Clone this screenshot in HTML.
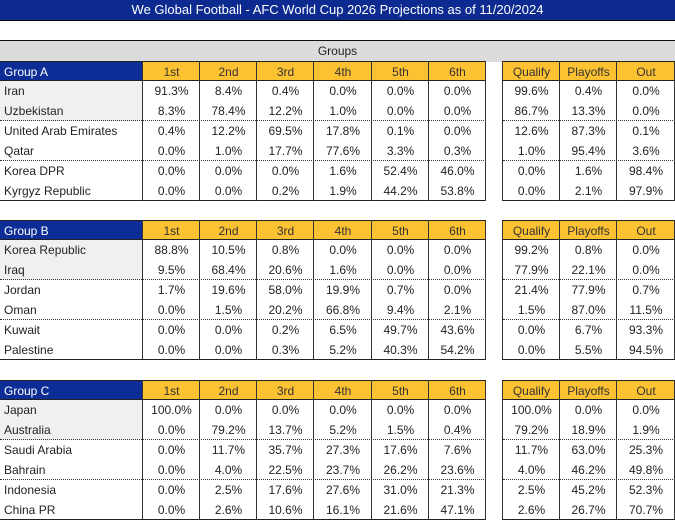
<!DOCTYPE html>
<html><head><meta charset="utf-8"><style>
body{margin:0;background:#fff;}
#root{position:relative;width:675px;height:521px;overflow:hidden;font-family:"Liberation Sans",sans-serif;font-size:12px;color:#222;}
.c{position:absolute;box-sizing:border-box;height:20px;line-height:20px;text-align:center;white-space:nowrap;}
.n{text-align:left;padding-left:4px;}
.h{background:#fdc232;color:#333;border-top:1px solid #222;border-bottom:1px solid #222;}
.g{background:#0c2d96;color:#fff;border-top:1px solid #222;border-bottom:1px solid #222;}
</style></head><body>
<div id="root">
<div style="position:absolute;left:0;top:0;width:675px;height:20px;background:#0c2a90;color:#fff;text-align:center;line-height:20px;font-size:13px;border-bottom:1px solid #000;">We Global Football - AFC World Cup 2026 Projections as of 11/20/2024</div>
<div style="position:absolute;left:0;top:40px;width:675px;height:21px;background:#dcdcdc;border-top:1px solid #111;text-align:center;line-height:20px;">Groups</div>
</div>
<script>
const posHeaders=["1st","2nd","3rd","4th","5th","6th"];
const outHeaders=["Qualify","Playoffs","Out"];
const groupNames=["Group A","Group B","Group C"];
const teamsA=["Iran","Uzbekistan","United Arab Emirates","Qatar","Korea DPR","Kyrgyz Republic"];
const teamsB=["Korea Republic","Iraq","Jordan","Oman","Kuwait","Palestine"];
const teamsC=["Japan","Australia","Saudi Arabia","Bahrain","Indonesia","China PR"];
const posA=[[91.3,8.4,0.4,0.0,0.0,0.0],[8.3,78.4,12.2,1.0,0.0,0.0],[0.4,12.2,69.5,17.8,0.1,0.0],[0.0,1.0,17.7,77.6,3.3,0.3],[0.0,0.0,0.0,1.6,52.4,46.0],[0.0,0.0,0.2,1.9,44.2,53.8]];
const outA=[[99.6,0.4,0.0],[86.7,13.3,0.0],[12.6,87.3,0.1],[1.0,95.4,3.6],[0.0,1.6,98.4],[0.0,2.1,97.9]];
const posB=[[88.8,10.5,0.8,0.0,0.0,0.0],[9.5,68.4,20.6,1.6,0.0,0.0],[1.7,19.6,58.0,19.9,0.7,0.0],[0.0,1.5,20.2,66.8,9.4,2.1],[0.0,0.0,0.2,6.5,49.7,43.6],[0.0,0.0,0.3,5.2,40.3,54.2]];
const outB=[[99.2,0.8,0.0],[77.9,22.1,0.0],[21.4,77.9,0.7],[1.5,87.0,11.5],[0.0,6.7,93.3],[0.0,5.5,94.5]];
const posC=[[100.0,0.0,0.0,0.0,0.0,0.0],[0.0,79.2,13.7,5.2,1.5,0.4],[0.0,11.7,35.7,27.3,17.6,7.6],[0.0,4.0,22.5,23.7,26.2,23.6],[0.0,2.5,17.6,27.6,31.0,21.3],[0.0,2.6,10.6,16.1,21.6,47.1]];
const outC=[[100.0,0.0,0.0],[79.2,18.9,1.9],[11.7,63.0,25.3],[4.0,46.2,49.8],[2.5,45.2,52.3],[2.6,26.7,70.7]];
const teams=[teamsA,teamsB,teamsC],pos=[posA,posB,posC],outs=[outA,outB,outC];
const root=document.getElementById('root');
const posX=[143,200,257,314,372,429,486];
const outX=[503,560,617,675];
function cell(x,y,w,txt,cls,name){
  const d=document.createElement('div');
  d.className='c '+cls;
  d.style.left=x+'px';d.style.top=y+'px';d.style.width=w+'px';
  d.textContent=txt;
  
  
  root.appendChild(d);return d;
}
function line(x,y,w,h,style,name){
  const d=document.createElement('div');
  d.style.cssText='position:absolute;left:'+x+'px;top:'+y+'px;width:'+w+'px;height:'+h+'px;'+style;
  
  
  root.appendChild(d);
}
const tops=[61,220,380];
groupNames.forEach((g,gi)=>{
  const y0=tops[gi];
  cell(0,y0,143,g,'g n','group-label');
  posHeaders.forEach((h,i)=>cell(posX[i],y0,posX[i+1]-posX[i],h,'h','position-header'));
  outHeaders.forEach((h,i)=>cell(outX[i],y0,outX[i+1]-outX[i],h,'h','outcome-header'));
  teams[gi].forEach((t,r)=>{
    const y=y0+20+r*20;
    const nc=cell(0,y,143,t,'n','team-name');
    if(r<2) nc.style.background='#f0f0f0';
    pos[gi][r].forEach((v,i)=>cell(posX[i],y,posX[i+1]-posX[i],v.toFixed(1)+'%','','position-prob'));
    outs[gi][r].forEach((v,i)=>cell(outX[i],y,outX[i+1]-outX[i],v.toFixed(1)+'%','','outcome-prob'));
    if(r==1||r==3){
      line(0,y+19,486,1,'border-top:1px dotted #333;','row-separator');
      line(503,y+19,172,1,'border-top:1px dotted #333;','row-separator');
    }
  });
  const yb=y0+140;
  line(0,yb-1,486,1,'background:#222;','group-bottom-border');
  line(503,yb-1,172,1,'background:#222;','group-bottom-border');
  posX.forEach(x=>line(x-1,y0,1,140,'background:#333;','column-divider'));
  outX.forEach(x=>line(x-1,y0,1,140,'background:#333;','column-divider'));
});
</script>
</body></html>
